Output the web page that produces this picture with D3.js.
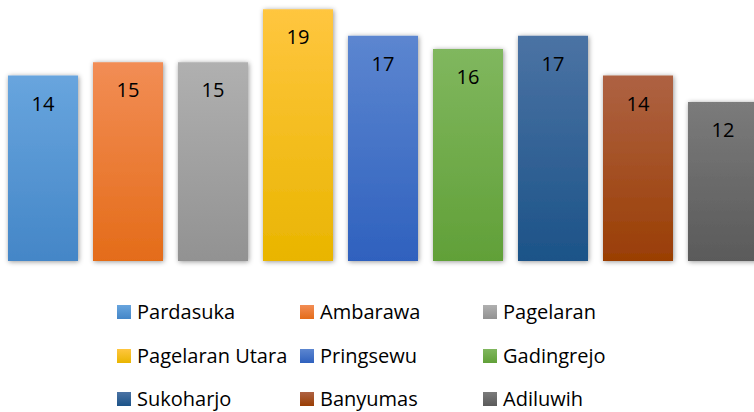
<!DOCTYPE html>
<html><head><meta charset="utf-8">
<script src="https://cdn.jsdelivr.net/npm/d3@7"></script>
<style>
html,body{margin:0;padding:0;background:#fff;}
svg{display:block;font-family:"Open Sans",sans-serif;}
</style></head>
<body>
<svg id="c" width="754" height="412"></svg>
<script>
const categories = ["Pardasuka","Ambarawa","Pagelaran","Pagelaran Utara","Pringsewu","Gadingrejo","Sukoharjo","Banyumas","Adiluwih"];
const values = [14,15,15,19,17,16,17,14,12];
const topColors = ["#68a5de","#f28d55","#b0b0b0","#ffc63f","#5c86d0","#80b75e","#4b73a4","#ae6243","#7b7b7b"];
const bottomColors = ["#4486c7","#e46c19","#929292","#e9b500","#2f61be","#61a038","#1c5388","#9a3e04","#5a5a5a"];

const svg = d3.select("#c");
const defs = svg.append("defs");
const f = defs.append("filter").attr("id","sh").attr("x","-20%").attr("y","-20%").attr("width","140%").attr("height","140%");
f.append("feDropShadow").attr("dx",0.8).attr("dy",0.8).attr("stdDeviation",2.6).attr("flood-color","#000").attr("flood-opacity",0.42);

categories.forEach((c,i)=>{
  const g = defs.append("linearGradient").attr("id","g"+i).attr("x1",0).attr("y1",0).attr("x2",0).attr("y2",1);
  g.append("stop").attr("offset","0%").attr("stop-color",topColors[i]);
  g.append("stop").attr("offset","100%").attr("stop-color",bottomColors[i]);
});

const x = d3.scaleBand().domain(categories).range([0.5,765.5]).paddingInner(15/85).paddingOuter(7.5/85);
const y = d3.scaleLinear().domain([0,20]).range([261,-4]);

const bars = svg.append("g").selectAll("g").data(categories).join("g");
bars.append("rect")
  .attr("x",d=>x(d)).attr("width",x.bandwidth())
  .attr("y",(d,i)=>y(values[i])).attr("height",(d,i)=>y(0)-y(values[i]))
  .attr("fill",(d,i)=>`url(#g${i})`).attr("filter","url(#sh)");
bars.append("text")
  .attr("x",d=>x(d)+x.bandwidth()/2).attr("y",(d,i)=>y(values[i])+35)
  .attr("text-anchor","middle").attr("font-size",20).attr("fill","#000")
  .text((d,i)=>values[i]);

const legX = [117,300,483];
const legY = [319,363,406];
const leg = svg.append("g").selectAll("g").data(categories).join("g")
  .attr("transform",(d,i)=>`translate(${legX[i%3]},${legY[Math.floor(i/3)]})`);
leg.append("rect").attr("x",0).attr("y",-14).attr("width",14).attr("height",14).attr("fill",(d,i)=>`url(#g${i})`);
leg.append("text").attr("x",20).attr("y",0).attr("font-size",20).attr("fill","#000").text(d=>d);
</script>
</body></html>
